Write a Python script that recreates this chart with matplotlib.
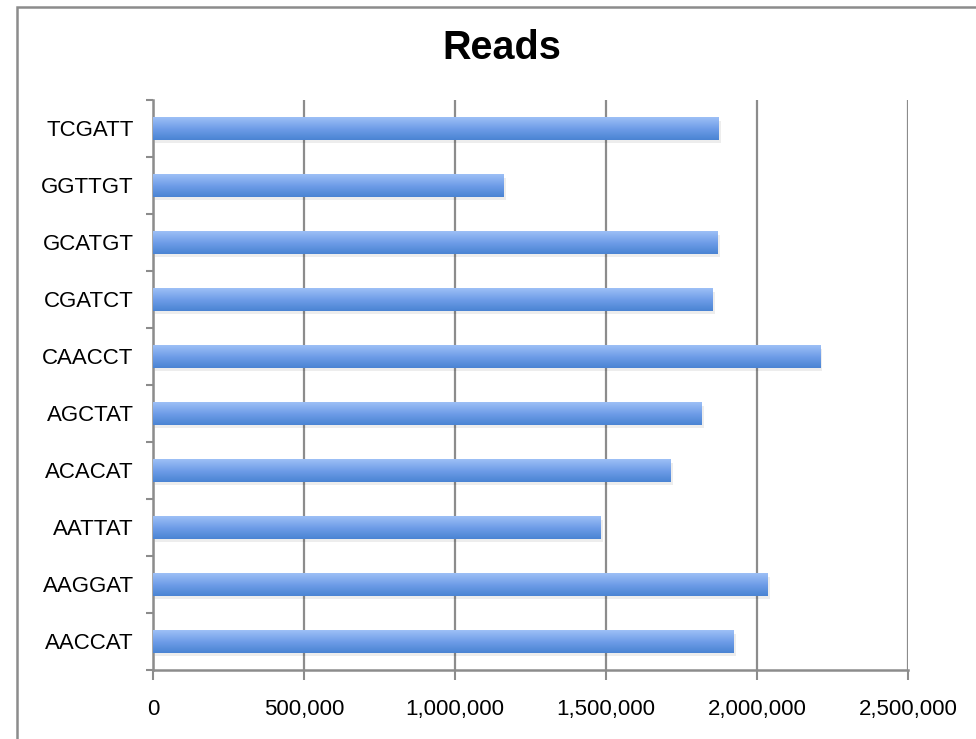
import numpy as np
import matplotlib
matplotlib.use("Agg")
import matplotlib.pyplot as plt
from matplotlib.colors import LinearSegmentedColormap
from matplotlib.patches import Rectangle
from matplotlib.ticker import FuncFormatter, FixedLocator
import matplotlib.transforms as mtransforms

# data, bottom to top
barcodes = ["AACCAT", "AAGGAT", "AATTAT", "ACACAT", "AGCTAT",
            "CAACCT", "CGATCT", "GCATGT", "GGTTGT", "TCGATT"]
reads = [1924000, 2036000, 1483000, 1715000, 1818000,
         2209000, 1854000, 1871000, 1162000, 1874000]
xticks = [0, 500000, 1000000, 1500000, 2000000, 2500000]

plt.rcParams['font.family'] = ['Liberation Sans', 'DejaVu Sans']
grey = "#8c8c8c"
bar_h = 0.4

fig = plt.figure(figsize=(9.76, 7.39), dpi=100)
ax = fig.add_axes([0.1568, 0.0934, 0.7735, 0.7713])

# outer frame (runs off the right and bottom edge like the screenshot)
fig.patches.append(Rectangle((17 / 976, -0.1), 1.2, 1 - 7 / 739 + 0.1,
                             transform=fig.transFigure, fill=False,
                             edgecolor=grey, linewidth=1.8, zorder=0))

ypos = np.arange(len(barcodes))

# soft drop shadow
shadow_tr = ax.transData + mtransforms.ScaledTranslation(1.5 / 72, -2.5 / 72, fig.dpi_scale_trans)
ax.barh(ypos, reads, height=bar_h, color="black", alpha=0.07,
        transform=shadow_tr, zorder=2)

# gradient bars
cmap = LinearSegmentedColormap.from_list("bar", ["#4a84d3", "#6f9de8", "#9dc0f6"])
grad = np.linspace(0, 1, 64).reshape(-1, 1)
bars = ax.barh(ypos, reads, height=bar_h, color="#6f9de8", zorder=3)
for b in bars:
    x0, y0 = b.get_x(), b.get_y()
    ax.imshow(grad, cmap=cmap, origin="lower", aspect="auto",
              extent=[x0, x0 + b.get_width(), y0, y0 + b.get_height()],
              zorder=4, interpolation="bilinear")

ax.set_xlim(0, 2500000)
ax.set_ylim(-0.5, len(barcodes) - 0.5)

ax.set_xticks(xticks)
ax.xaxis.set_major_formatter(FuncFormatter(lambda v, p: f"{int(v):,}"))
ax.set_yticks(ypos)
ax.set_yticklabels(barcodes)
ax.yaxis.set_minor_locator(FixedLocator(np.arange(-0.5, len(barcodes), 1.0)))

ax.tick_params(axis="y", which="major", length=0, pad=14, labelsize=16)
ax.tick_params(axis="y", which="minor", length=5, width=1.5, color=grey)
ax.tick_params(axis="x", length=7, width=1.5, color=grey, pad=14, labelsize=16)

ax.grid(axis="x", color=grey, linewidth=1.6, zorder=1)
ax.set_axisbelow(True)
for s in ["top", "right"]:
    ax.spines[s].set_visible(False)
for s in ["left", "bottom"]:
    ax.spines[s].set_color(grey)
    ax.spines[s].set_linewidth(1.8)

fig.text(502 / 976, 1 - 48 / 739, "Reads", ha="center", va="center",
         fontsize=28.5, fontweight="bold")

fig.savefig("out.png", dpi=100)
